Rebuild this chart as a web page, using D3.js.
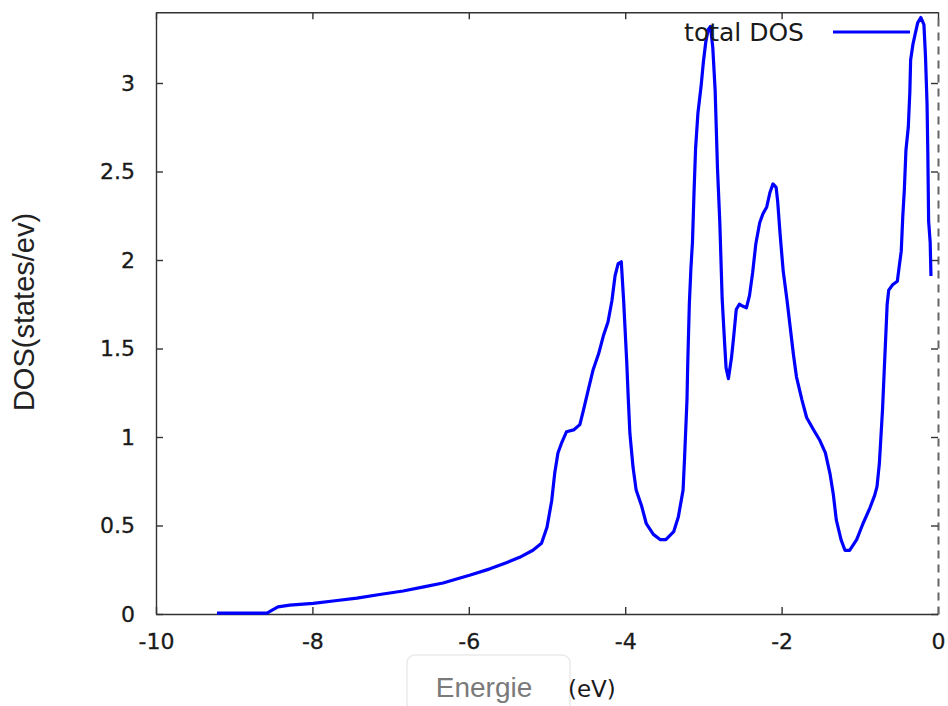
<!DOCTYPE html>
<html>
<head>
<meta charset="utf-8">
<script src="https://cdn.jsdelivr.net/npm/d3@7"></script>
<style>
  body { margin: 0; background: #fff; }
  svg { display: block; }
</style>
</head>
<body>
<div id="chart"></div>
<script>
// energy (eV) and total DOS (states/eV)
const energy = [
  -9.22, -8.58, -8.52, -8.44, -8.29, -7.99, -7.71, -7.43, -7.14, -6.84,
  -6.56, -6.33, -5.98, -5.73, -5.52, -5.35, -5.18, -5.07, -5.00, -4.94,
  -4.90, -4.86, -4.81, -4.75, -4.66, -4.58, -4.54, -4.47, -4.41, -4.34,
  -4.28, -4.22, -4.17, -4.13, -4.09, -4.05, -4.02, -3.98, -3.96, -3.94,
  -3.90, -3.86, -3.79, -3.73, -3.64, -3.55, -3.48, -3.38, -3.32, -3.26,
  -3.24, -3.21, -3.20, -3.18, -3.16, -3.14, -3.12, -3.10, -3.07, -3.03,
  -3.00, -2.97, -2.94, -2.91, -2.88, -2.85, -2.82, -2.79, -2.76, -2.73,
  -2.71, -2.68, -2.64, -2.61, -2.58, -2.54, -2.50, -2.45, -2.41, -2.37,
  -2.33, -2.28, -2.24, -2.19, -2.15, -2.11, -2.07, -2.05, -2.02, -1.98,
  -1.93, -1.89, -1.85, -1.81, -1.74, -1.68, -1.59, -1.51, -1.44, -1.38,
  -1.34, -1.30, -1.24, -1.19, -1.13, -1.04, -0.96, -0.87, -0.81, -0.78,
  -0.75, -0.73, -0.71, -0.69, -0.67, -0.65, -0.63, -0.58, -0.52, -0.50,
  -0.47, -0.45, -0.43, -0.41, -0.38, -0.36, -0.35, -0.32, -0.29, -0.26,
  -0.22, -0.18, -0.16, -0.14, -0.13, -0.12, -0.10, -0.09
];
const dos = [
  0.005, 0.005, 0.02, 0.04, 0.05, 0.06, 0.075, 0.09, 0.11, 0.13,
  0.155, 0.175, 0.22, 0.255, 0.29, 0.32, 0.36, 0.40, 0.49, 0.64,
  0.80, 0.91, 0.97, 1.03, 1.04, 1.07, 1.14, 1.27, 1.38, 1.47,
  1.57, 1.65, 1.77, 1.91, 1.98, 1.99, 1.77, 1.42, 1.21, 1.02,
  0.83, 0.70, 0.61, 0.51, 0.45, 0.42, 0.42, 0.465, 0.55, 0.70,
  0.89, 1.21, 1.42, 1.75, 1.95, 2.10, 2.38, 2.63, 2.83, 2.98,
  3.12, 3.23, 3.30, 3.32, 3.20, 2.96, 2.52, 2.21, 1.78, 1.54,
  1.39, 1.33, 1.45, 1.58, 1.72, 1.75, 1.74, 1.73, 1.80, 1.93,
  2.09, 2.21, 2.26, 2.30, 2.38, 2.43, 2.41, 2.33, 2.15, 1.94,
  1.77, 1.62, 1.47, 1.34, 1.21, 1.11, 1.04, 0.98, 0.91, 0.79,
  0.68, 0.53, 0.42, 0.36, 0.36, 0.42, 0.51, 0.60, 0.67, 0.72,
  0.85, 1.00, 1.15, 1.35, 1.55, 1.75, 1.83, 1.86, 1.88, 1.95,
  2.05, 2.25, 2.40, 2.62, 2.75, 2.95, 3.13, 3.22, 3.28, 3.34,
  3.37, 3.33, 3.15, 2.88, 2.60, 2.22, 2.10, 1.91
];
const xTicks = [-10, -8, -6, -4, -2, 0];
const yTicks = [0, 0.5, 1, 1.5, 2, 2.5, 3];
const seriesName = 'total DOS';

const width = 948, height = 706;
const margin = {left: 156, right: 10, top: 12.2, bottom: 92};

const svg = d3.select('#chart').append('svg')
    .attr('width', width)
    .attr('height', height);

const x = d3.scaleLinear()
    .domain([-10, 0])
    .range([margin.left, width - margin.right]);

const y = d3.scaleLinear()
    .domain([0, 3.4])
    .range([height - margin.bottom, margin.top]);

const tickFont = '"DejaVu Sans", sans-serif';

// axes, gnuplot style: ticks pointing inwards, mirrored
let gx = svg.append('g')
    .attr('transform', `translate(0,${y(0)})`)
    .call(d3.axisBottom(x).tickValues(xTicks).tickSize(-7).tickSizeOuter(0)
        .tickPadding(19).tickFormat(d => String(d)));
let gy = svg.append('g')
    .attr('transform', `translate(${x(-10)},0)`)
    .call(d3.axisLeft(y).tickValues(yTicks).tickSize(-7).tickSizeOuter(0)
        .tickPadding(21).tickFormat(d => String(d)));
let gxTop = svg.append('g')
    .attr('transform', `translate(0,${y(3.4)})`)
    .call(d3.axisTop(x).tickValues(xTicks).tickSize(-7).tickSizeOuter(0).tickFormat(''));
let gyRight = svg.append('g')
    .attr('transform', `translate(${x(0)},0)`)
    .call(d3.axisRight(y).tickValues(yTicks).tickSize(-7).tickSizeOuter(0).tickFormat(''));

[gx, gy, gxTop, gyRight].forEach(g => {
    g.selectAll('.domain').attr('stroke', '#333').attr('stroke-width', 1.4);
    g.selectAll('.tick line').attr('stroke', '#333').attr('stroke-width', 1.4);
    g.selectAll('.tick text')
        .attr('fill', '#1a1a1a')
        .attr('stroke', '#1a1a1a')
        .attr('stroke-width', 0.3)
        .style('font-family', tickFont)
        .style('font-size', '22px');
});
gyRight.select('.domain').attr('stroke', '#666').attr('stroke-width', 2).attr('stroke-dasharray', '8,6');

// the DOS curve
const line = d3.line()
    .x((d, i) => x(energy[i]))
    .y(d => y(d));

svg.append('path')
    .datum(dos)
    .attr('fill', 'none')
    .attr('stroke', '#0000ff')
    .attr('stroke-width', 3.2)
    .attr('stroke-linejoin', 'round')
    .attr('d', line);

// legend
svg.append('text')
    .attr('x', 804)
    .attr('y', 32)
    .attr('dy', '0.35em')
    .attr('text-anchor', 'end')
    .style('font-family', tickFont)
    .style('font-size', '25px')
    .attr('fill', '#1a1a1a')
    .text(seriesName);
svg.append('line')
    .attr('x1', 833).attr('x2', 910)
    .attr('y1', 32).attr('y2', 32)
    .attr('stroke', '#0000ff')
    .attr('stroke-width', 3.2);

// axis titles
svg.append('text')
    .attr('transform', 'translate(34,312) rotate(-90)')
    .attr('text-anchor', 'middle')
    .style('font-family', '"Liberation Sans", Arial, sans-serif')
    .style('font-size', '29px')
    .attr('fill', '#222')
    .text('DOS(states/ev)');

svg.append('rect')
    .attr('x', 407).attr('y', 655)
    .attr('width', 163).attr('height', 60)
    .attr('rx', 8)
    .attr('fill', '#fff')
    .attr('stroke', '#eaeaea')
    .attr('stroke-width', 1.5);
svg.append('text')
    .attr('x', 484).attr('y', 697)
    .attr('text-anchor', 'middle')
    .style('font-family', '"Liberation Sans", Arial, sans-serif')
    .style('font-size', '28px')
    .attr('fill', '#7a7a7a')
    .text('Energie');
svg.append('text')
    .attr('x', 568).attr('y', 697)
    .style('font-family', '"DejaVu Sans", sans-serif')
    .style('font-size', '23px')
    .attr('fill', '#1a1a1a')
    .text('(eV)');
</script>
</body>
</html>
